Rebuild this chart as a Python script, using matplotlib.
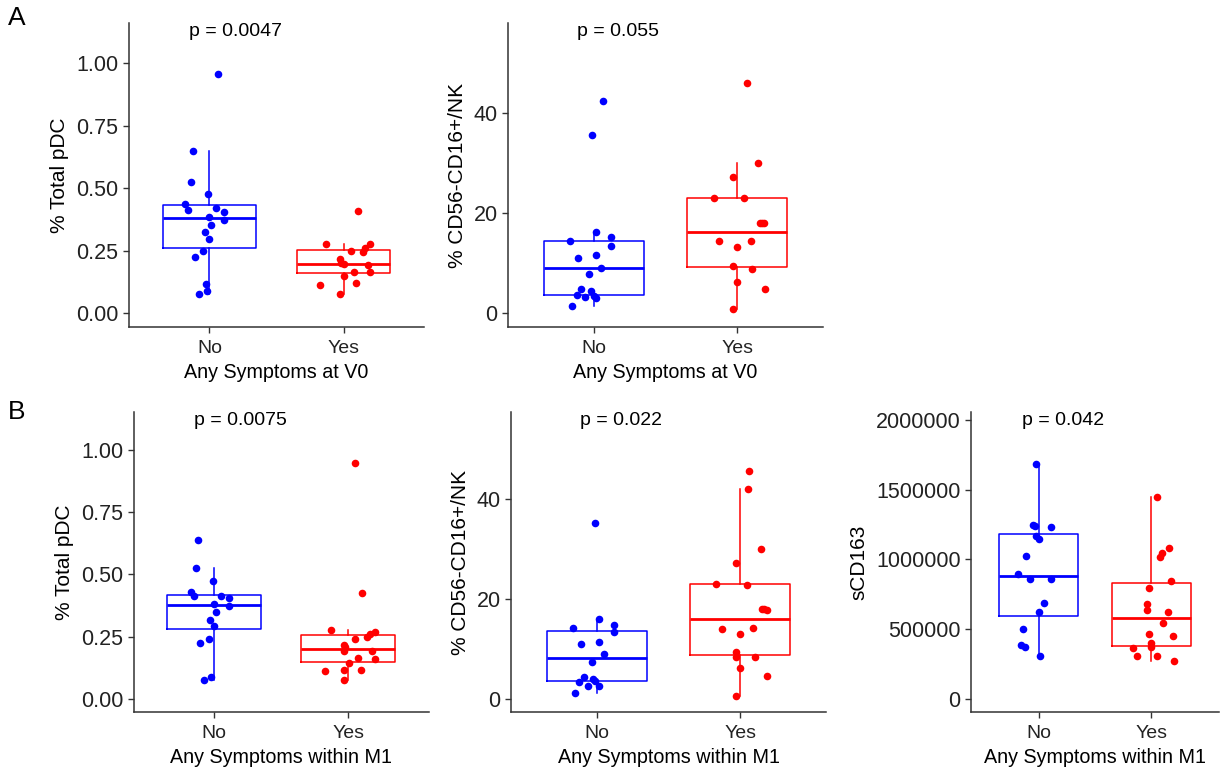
import matplotlib.pyplot as plt
from matplotlib.ticker import FuncFormatter
import numpy as np

plt.rcParams['font.family'] = ['Liberation Sans', 'DejaVu Sans']

groups = ["No", "Yes"]
blue = "#0000FF"
red = "#FF0000"

# panel A1: % Total pDC vs symptoms at V0
a1_no = [0.956, 0.647, 0.525, 0.476, 0.439, 0.413, 0.42, 0.404, 0.387, 0.373,
         0.353, 0.327, 0.299, 0.251, 0.227, 0.117, 0.089, 0.077]
a1_no_jit = [0.062, -0.124, -0.137, -0.012, -0.179, -0.157, 0.050, 0.112, 0.0, 0.112,
             0.010, -0.035, -0.005, -0.045, -0.107, -0.025, -0.020, -0.075]
a1_yes = [0.409, 0.277, 0.277, 0.26, 0.251, 0.247, 0.217, 0.2, 0.197, 0.193,
          0.167, 0.167, 0.151, 0.123, 0.112, 0.077]
a1_yes_jit = [0.107, -0.129, 0.199, 0.157, 0.057, 0.144, -0.03, -0.017, 0.0, 0.182,
              0.075, 0.199, 0.007, 0.095, -0.172, -0.03]

# panel A2: % CD56-CD16+/NK vs symptoms at V0
a2_no = [42.4, 35.5, 16.2, 15.1, 14.3, 13.4, 11.5, 10.9, 9.0, 7.7, 4.7, 4.4,
         3.5, 3.1, 3.3, 2.9, 1.3]
a2_no_jit = [0.060, -0.016, 0.012, 0.116, -0.167, 0.119, 0.014, -0.112, 0.051, -0.033,
             -0.091, -0.023, -0.121, -0.065, 0.0, 0.014, -0.151]
a2_yes = [45.9, 29.9, 27.2, 23.0, 23.0, 17.9, 17.9, 17.9, 14.3, 14.3, 13.1, 9.3,
          8.7, 6.2, 4.7, 0.7]
a2_yes_jit = [0.070, 0.147, -0.028, -0.163, 0.047, 0.158, 0.191, 0.174, -0.123, 0.098,
              0.0, -0.028, 0.107, 0.0, 0.193, -0.028]

# panel B1: % Total pDC vs symptoms within M1
b1_no = [0.640, 0.525, 0.474, 0.431, 0.412, 0.413, 0.404, 0.380, 0.375, 0.348,
         0.319, 0.293, 0.242, 0.226, 0.088, 0.076]
b1_no_jit = [-0.119, -0.134, -0.010, -0.171, -0.151, 0.050, 0.114, 0.0, 0.114, 0.012,
             -0.030, 0.0, -0.040, -0.102, -0.020, -0.072]
b1_yes = [0.949, 0.425, 0.276, 0.270, 0.260, 0.249, 0.242, 0.217, 0.207, 0.194,
          0.193, 0.166, 0.161, 0.145, 0.116, 0.116, 0.111, 0.078]
b1_yes_jit = [0.052, 0.104, -0.132, 0.196, 0.161, 0.141, 0.052, -0.032, -0.025, -0.032,
              0.174, 0.074, 0.199, 0.005, -0.030, 0.094, -0.171, -0.030]

# panel B2: % CD56-CD16+/NK vs symptoms within M1
b2_no = [35.2, 16.0, 14.9, 14.3, 13.4, 11.5, 11.1, 9.1, 7.5, 4.5, 4.1, 3.5,
         2.7, 3.6, 2.7, 1.1]
b2_no_jit = [-0.016, 0.012, 0.116, -0.167, 0.116, 0.014, -0.114, 0.051, -0.035, -0.091,
             -0.026, -0.123, -0.065, -0.016, 0.016, -0.151]
b2_yes = [45.7, 42.1, 30.0, 27.2, 23.1, 22.8, 18.0, 17.8, 18.0, 14.0, 14.3, 13.0,
          9.5, 8.5, 8.5, 6.3, 4.7, 0.5]
b2_yes_jit = [0.065, 0.058, 0.144, -0.030, -0.167, 0.047, 0.151, 0.191, 0.170, -0.123,
              0.093, -0.002, -0.030, -0.030, 0.105, -0.002, 0.191, -0.030]

# panel B3: sCD163 vs symptoms within M1
b3_no = [1688000, 1246000, 1237000, 1229000, 1168000, 1146000, 1027000, 898000,
         861000, 861000, 686000, 622000, 503000, 383000, 371000, 310000]
b3_no_jit = [-0.026, -0.050, -0.029, 0.109, -0.026, 0.003, -0.109, -0.179,
             -0.073, 0.109, 0.050, 0.0, -0.135, -0.158, -0.123, 0.012]
b3_yes = [1446000, 1078000, 1049000, 1020000, 844000, 793000, 680000, 634000, 622000,
          541000, 463000, 451000, 400000, 371000, 363000, 310000, 310000, 273000]
b3_yes_jit = [0.050, 0.158, 0.094, 0.073, 0.170, -0.023, -0.035, -0.035, 0.147,
              0.103, -0.023, 0.196, 0.0, 0.0, -0.167, -0.129, 0.050, 0.199]

fig = plt.figure(figsize=(12.2, 7.73), dpi=100)
W, H = 1220, 773


def make_ax(left, right, top, bottom):
    return fig.add_axes([left / W, 1 - bottom / H, (right - left) / W, (bottom - top) / H])


def panel(ax, no, no_jit, yes, yes_jit, ylim, yticks, ylabel, xlabel, ptext, ptext_x, fmt):
    for i, (vals, col) in enumerate([(no, blue), (yes, red)]):
        ax.boxplot([vals], positions=[i + 1], widths=0.7, whis=1.5, showfliers=False,
                   showcaps=False,
                   boxprops=dict(color=col, linewidth=1.1),
                   whiskerprops=dict(color=col, linewidth=1.1),
                   medianprops=dict(color=col, linewidth=2.0))
    ax.scatter(1 + np.array(no_jit), no, s=30, color=blue, zorder=3, linewidths=0)
    ax.scatter(2 + np.array(yes_jit), yes, s=30, color=red, zorder=3, linewidths=0)
    ax.set_xlim(0.4, 2.6)
    ax.set_ylim(*ylim)
    ax.set_yticks(yticks)
    ax.yaxis.set_major_formatter(FuncFormatter(fmt))
    ax.set_xticks([1, 2])
    ax.set_xticklabels(groups)
    for s in ["top", "right"]:
        ax.spines[s].set_visible(False)
    for s in ["left", "bottom"]:
        ax.spines[s].set_color("#333333")
        ax.spines[s].set_linewidth(1.1)
    ax.tick_params(axis="y", labelsize=15.5, length=4.5, width=1.0, color="#333333",
                   labelcolor="#222222", pad=3)
    ax.tick_params(axis="x", labelsize=14, length=4.5, width=1.0, color="#333333",
                   labelcolor="#222222", pad=5)
    ax.set_ylabel(ylabel, fontsize=15, labelpad=5)
    ax.set_xlabel(xlabel, fontsize=14.2, labelpad=4)
    ax.text(ptext_x, 0.972, ptext, transform=ax.get_xaxis_transform(), fontsize=14,
            ha="left", va="center")


f2 = lambda v, p: f"{v:.2f}"
f0 = lambda v, p: f"{v:.0f}"

ax1 = make_ax(129, 424, 23, 327)
panel(ax1, a1_no, a1_no_jit, a1_yes, a1_yes_jit, (-0.055, 1.161),
      [0, 0.25, 0.5, 0.75, 1.0], "% Total pDC", "Any Symptoms at V0", "p = 0.0047", 0.85, f2)

ax2 = make_ax(508, 823, 23, 327)
panel(ax2, a2_no, a2_no_jit, a2_yes, a2_yes_jit, (-2.87, 57.9),
      [0, 20, 40], "% CD56-CD16+/NK", "Any Symptoms at V0", "p = 0.055", 0.884, f0)

ax3 = make_ax(133.5, 429, 411.7, 712.3)
panel(ax3, b1_no, b1_no_jit, b1_yes, b1_yes_jit, (-0.053, 1.153),
      [0, 0.25, 0.5, 0.75, 1.0], "% Total pDC", "Any Symptoms within M1", "p = 0.0075", 0.851, f2)

ax4 = make_ax(511, 826, 411.7, 712.3)
panel(ax4, b2_no, b2_no_jit, b2_yes, b2_yes_jit, (-2.67, 57.6),
      [0, 20, 40], "% CD56-CD16+/NK", "Any Symptoms within M1", "p = 0.022", 0.883, f0)

ax5 = make_ax(971, 1219, 411.7, 712.3)
panel(ax5, b3_no, b3_no_jit, b3_yes, b3_yes_jit, (-97600, 2059800),
      [0, 500000, 1000000, 1500000, 2000000], "sCD163", "Any Symptoms within M1", "p = 0.042", 0.853, f0)

fig.text(8 / W, 1 - 18 / H, "A", fontsize=19, ha="left", va="center")
fig.text(8 / W, 1 - 412 / H, "B", fontsize=19, ha="left", va="center")

fig.savefig("out.png", dpi=100, facecolor="white")
